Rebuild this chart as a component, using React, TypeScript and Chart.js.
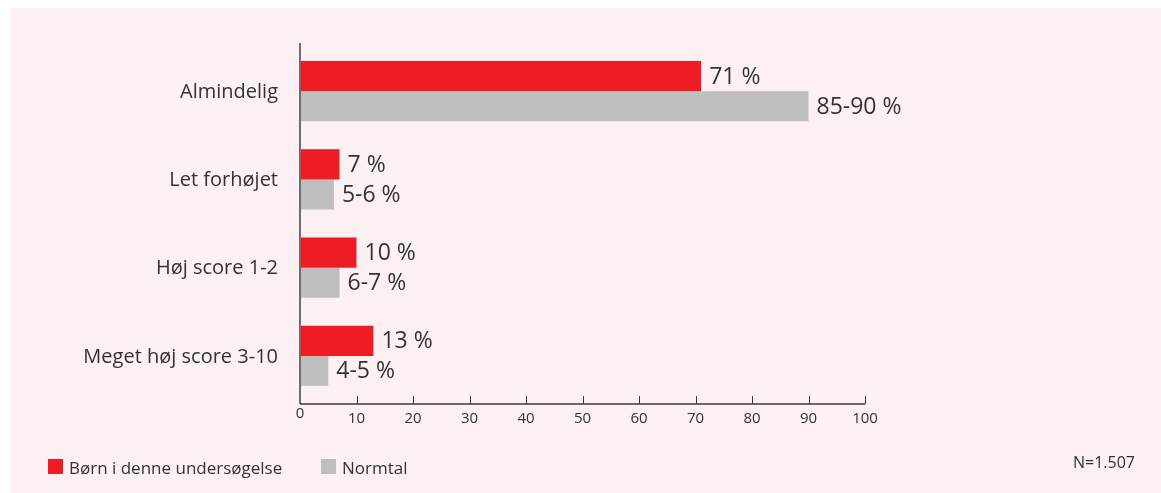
import React, { useEffect, useRef } from "react";
import { Chart, registerables } from "chart.js";

Chart.register(...registerables);

const categories = ["Almindelig", "Let forhøjet", "Høj score 1-2", "Meget høj score 3-10"];
const childrenValues = [71, 7, 10, 13];
const normValues = [90, 6, 7, 5];
const childrenLabels = ["71 %", "7 %", "10 %", "13 %"];
const normLabels = ["85-90 %", "5-6 %", "6-7 %", "4-5 %"];
const xTicks = [0, 10, 20, 30, 40, 50, 60, 70, 80, 90, 100];
const seriesNames = ["Børn i denne undersøgelse", "Normtal"];

const RED = "#ee1c25";
const GRAY = "#bfbebf";
const TEXT = "#333333";
const FONT = "'Open Sans', 'DejaVu Sans', sans-serif";

const decorPlugin = {
  id: "decor",
  afterDatasetsDraw(chart: any) {
    const ctx = chart.ctx;
    const area = chart.chartArea;
    const xs = chart.scales.x;
    const ys = chart.scales.y;
    const x0 = xs.getPixelForValue(0);
    const axisY = area.bottom + 4;
    ctx.save();

    // value labels
    ctx.font = `23px ${FONT}`;
    ctx.fillStyle = TEXT;
    ctx.textAlign = "left";
    ctx.textBaseline = "middle";
    const labelSets = [childrenLabels, normLabels];
    chart.data.datasets.forEach((ds: any, di: number) => {
      const meta = chart.getDatasetMeta(di);
      meta.data.forEach((el: any, i: number) => {
        ctx.fillText(labelSets[di][i], el.x + 8, el.y + 1);
      });
    });

    // category labels
    ctx.font = `20px ${FONT}`;
    ctx.textAlign = "right";
    categories.forEach((c, i) => {
      ctx.fillText(c, x0 - 22, ys.getPixelForValue(i) + 1);
    });

    // y axis line
    ctx.strokeStyle = "#6d6d6d";
    ctx.lineWidth = 2;
    ctx.beginPath();
    ctx.moveTo(x0, area.top - 4);
    ctx.lineTo(x0, axisY);
    ctx.stroke();

    // x axis line
    ctx.strokeStyle = "#3a3a3a";
    ctx.lineWidth = 1.5;
    ctx.beginPath();
    ctx.moveTo(x0, axisY);
    ctx.lineTo(xs.getPixelForValue(100), axisY);
    ctx.stroke();

    // ticks and tick labels
    ctx.lineWidth = 1;
    ctx.font = `15px ${FONT}`;
    ctx.textAlign = "center";
    xTicks.forEach((t) => {
      const px = xs.getPixelForValue(t);
      if (t !== 0) {
        ctx.beginPath();
        ctx.moveTo(Math.round(px) + 0.5, axisY);
        ctx.lineTo(Math.round(px) + 0.5, axisY - 8);
        ctx.stroke();
      }
      ctx.fillText(String(t), px, axisY + (t === 0 ? 10 : 15));
    });
    ctx.restore();
  },
};

export default function App() {
  const ref = useRef<HTMLCanvasElement | null>(null);
  useEffect(() => {
    if (!ref.current) return;
    const chart = new Chart(ref.current, {
      type: "bar",
      data: {
        labels: categories,
        datasets: [
          {
            label: seriesNames[0],
            data: childrenValues,
            backgroundColor: RED,
            borderWidth: 0,
            barPercentage: 1,
            categoryPercentage: 0.68,
          },
          {
            label: seriesNames[1],
            data: normValues,
            backgroundColor: GRAY,
            borderWidth: 0,
            barPercentage: 1,
            categoryPercentage: 0.68,
          },
        ],
      },
      options: {
        indexAxis: "y",
        responsive: false,
        animation: false,
        layout: { padding: { left: 300, right: 296, top: 47, bottom: 93 } },
        plugins: { legend: { display: false }, tooltip: { enabled: false } },
        scales: {
          x: { display: false, min: 0, max: 100 },
          y: { display: false },
        },
      },
      plugins: [decorPlugin],
    });
    return () => chart.destroy();
  }, []);

  const legendItem = (color: string, text: string, left: number) => (
    <div style={{ position: "absolute", left, top: 459, display: "flex", alignItems: "center" }}>
      <div style={{ width: 15, height: 15, background: color }} />
      <span style={{ marginLeft: 6, fontSize: 17, color: TEXT, fontFamily: FONT, lineHeight: "15px", position: "relative", top: 1 }}>{text}</span>
    </div>
  );

  return (
    <div style={{ position: "absolute", left: 0, top: 0, width: 1161, height: 493, overflow: "hidden" }}>
      <div style={{ position: "absolute", left: 10, top: 8, width: 1151, height: 485, background: "#fcf0f2" }} />
      <canvas ref={ref} width={1161} height={493} style={{ position: "absolute", left: 0, top: 0, width: 1161, height: 493 }} />
      {legendItem(RED, seriesNames[0], 48)}
      {legendItem(GRAY, seriesNames[1], 321)}
      <div style={{ position: "absolute", right: 1161 - 1135, top: 452, fontSize: 16, color: TEXT, fontFamily: FONT, lineHeight: "20px" }}>N=1.507</div>
    </div>
  );
}
